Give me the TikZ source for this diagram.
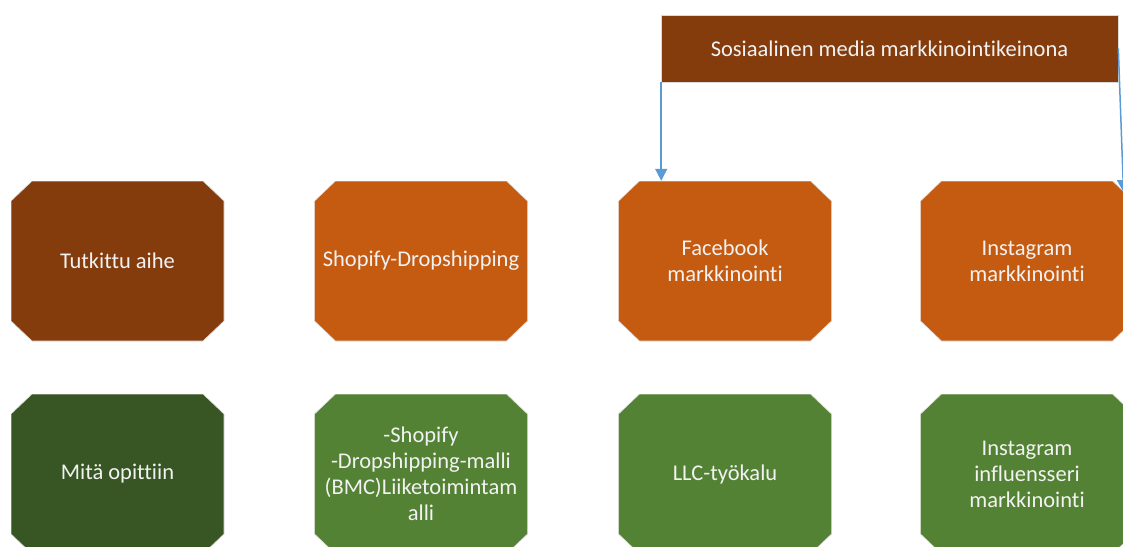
\documentclass[tikz,border=0pt]{standalone}
\usepackage{fontspec}
\setmainfont{Carlito}[Ligatures=NoCommon]
\usetikzlibrary{arrows.meta}
\definecolor{brownD}{HTML}{843C0C}
\definecolor{orangeM}{HTML}{C55A11}
\definecolor{greenD}{HTML}{375623}
\definecolor{greenM}{HTML}{548235}
\definecolor{arrowBlue}{HTML}{5B9BD5}
\definecolor{txt}{HTML}{F2F2F2}
\tikzset{
  octbox/.style={rectangle, minimum width=213pt, minimum height=160pt, inner sep=0pt,
    text=txt, font=\fontsize{22.5}{26}\selectfont, align=center,
    path picture={
      \path[fill=#1, draw=gray!25, line width=0.6pt]
        ([xshift=21pt]path picture bounding box.north west)
        -- ([xshift=-21pt]path picture bounding box.north east)
        -- ([yshift=-20pt]path picture bounding box.north east)
        -- ([yshift=20pt]path picture bounding box.south east)
        -- ([xshift=-21pt]path picture bounding box.south east)
        -- ([xshift=21pt]path picture bounding box.south west)
        -- ([yshift=20pt]path picture bounding box.south west)
        -- ([yshift=-20pt]path picture bounding box.north west) -- cycle;
    }},
  topbox/.style={rectangle, minimum width=457pt, minimum height=67pt, inner sep=0pt,
    draw=gray!30, line width=0.6pt, fill=brownD, text=txt, font=\fontsize{22.5}{26}\selectfont},
  conn/.style={draw=arrowBlue, line width=1.5pt, -{Triangle[length=12pt,width=12pt]}}
}
\begin{document}
\begin{tikzpicture}[x=1pt,y=-1pt]
\useasboundingbox (0,0) rectangle (1123,546);
\clip (0,0) rectangle (1123,546);
\node[topbox] (top) at (889.5,48.5) {Sosiaalinen media markkinointikeinona};
\node[octbox=brownD] (a1) at (117.5,261) {Tutkittu aihe};
\node[octbox=orangeM] (a2) at (421,261) {Shopify-Dropshipping};
\node[octbox=orangeM] (a3) at (725,261) {Facebook\\markkinointi};
\node[octbox=orangeM] (a4) at (1027,261) {Instagram\\markkinointi};
\node[octbox=greenD] (b1) at (117.5,474) {Mitä opittiin};
\node[octbox=greenM] (b2) at (421,474) {-Shopify\\-Dropshipping-malli\\(BMC)Liiketoimintam\\alli};
\node[octbox=greenM] (b3) at (725,474) {LLC-työkalu};
\node[octbox=greenM] (b4) at (1027,474) {Instagram\\influensseri\\markkinointi};
\coordinate (rEnd) at (1123.5,192);
\draw[conn] (top.south west) ++(0.5,0) coordinate (lStart) -- (lStart |- a3.north);
\draw[conn] (top.east) -- (rEnd);
\end{tikzpicture}
\end{document}
